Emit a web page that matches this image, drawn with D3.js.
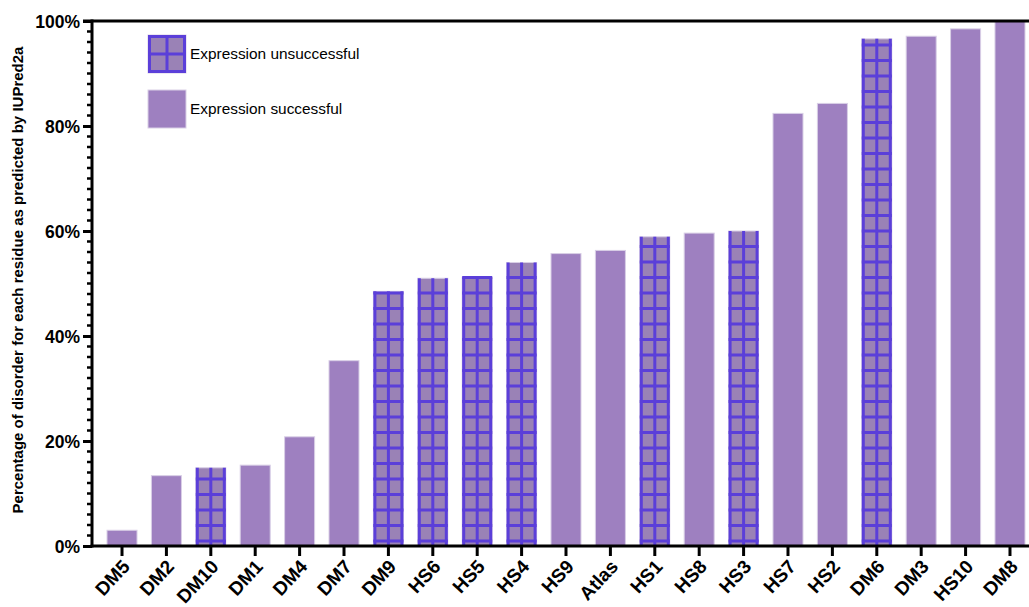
<!DOCTYPE html>
<html>
<head>
<meta charset="utf-8">
<script src="https://cdn.jsdelivr.net/npm/d3@7"></script>
<style>
  body { margin: 0; background: #fff; }
  svg { display: block; font-family: "Liberation Sans", Arial, sans-serif; }
</style>
</head>
<body>
<div id="chart"></div>
<script>
// constructs, sorted by disorder
const names = ["DM5", "DM2", "DM10", "DM1", "DM4", "DM7", "DM9", "HS6", "HS5", "HS4", "HS9",
    "Atlas", "HS1", "HS8", "HS3", "HS7", "HS2", "DM6", "DM3", "HS10", "DM8"];
const disorder = [3.0, 13.4, 14.9, 15.4, 20.8, 35.3, 48.5, 51.0, 51.2, 54.0, 55.7,
    56.3, 58.9, 59.6, 60.0, 82.4, 84.3, 96.6, 97.1, 98.5, 100];
// false = expression unsuccessful (hatched)
const expressed = [true, true, false, true, true, true, false, false, false, false, true,
    true, false, true, false, true, true, false, true, true, true];
const yTicks = [0, 20, 40, 60, 80, 100];
const legendLabels = ["Expression unsuccessful", "Expression successful"];

const W = 1029, H = 607;
const solid = "#9e80c0", hatchFill = "#9a82b6", hatchLine = "#5b3fd9";

const svg = d3.select("#chart").append("svg").attr("width", W).attr("height", H);

let x = d3.scaleBand()
    .domain(names)
    .range([92, 1040])
    .paddingInner(0.324)
    .paddingOuter(0.338);

let y = d3.scaleLinear().domain([0, 100]).range([546, 21]);

let data = names.map((n, i) => ({name: n, v: disorder[i], ok: expressed[i]}));

// bars
let bars = svg.append("g");
bars.selectAll("rect")
    .data(data)
    .enter()
    .append("rect")
    .attr("x", d => x(d.name))
    .attr("y", d => y(d.v))
    .attr("width", x.bandwidth())
    .attr("height", d => y(0) - y(d.v))
    .style("fill", d => d.ok ? solid : hatchFill)
    .style("stroke", "#d9cfe6")
    .style("stroke-width", 1);

// grid hatch on unsuccessful bars
let bw = x.bandwidth();
data.filter(d => !d.ok).forEach(d => {
    let g = bars.append("g");
    let x0 = x(d.name), top = y(d.v), bot = y(0);
    [x0 + 1.5, x0 + bw / 2, x0 + bw - 1.5].forEach(xx => {
        g.append("line").attr("x1", xx).attr("x2", xx).attr("y1", top).attr("y2", bot)
            .style("stroke", hatchLine).style("stroke-width", 3);
    });
    for (let yy = bot - 5; yy > top; yy -= 15.5) {
        g.append("line").attr("x1", x0).attr("x2", x0 + bw).attr("y1", yy).attr("y2", yy)
            .style("stroke", hatchLine).style("stroke-width", 3);
    }
});

// y axis with minor ticks every 2%
let minor = d3.range(0, 101, 2).filter(v => v % 20 != 0);
svg.append("g").selectAll("line")
    .data(minor)
    .enter()
    .append("line")
    .attr("x1", 87).attr("x2", 92)
    .attr("y1", d => y(d)).attr("y2", d => y(d))
    .style("stroke", "#000").style("stroke-width", 2.5);

let yAxis = svg.append("g")
    .attr("transform", "translate(92,0)")
    .call(d3.axisLeft(y).tickValues(yTicks).tickFormat(d => d + "%").tickSize(9).tickPadding(3));
yAxis.select(".domain").remove();
yAxis.selectAll(".tick line").style("stroke-width", 3);
yAxis.selectAll("text").style("font-size", "17.5px").style("font-weight", "bold")
    .style("fill", "#000").attr("dy", "0.36em");

svg.append("line").attr("x1", 92).attr("x2", 92).attr("y1", 19.5).attr("y2", 547.5)
    .style("stroke", "#000").style("stroke-width", 3);
// top frame line
svg.append("line").attr("x1", 83).attr("x2", W).attr("y1", y(100)).attr("y2", y(100))
    .style("stroke", "#000").style("stroke-width", 3);

// x axis
let xAxis = svg.append("g")
    .attr("transform", "translate(0,546)")
    .call(d3.axisBottom(x).tickSize(10));
xAxis.select(".domain").remove();
xAxis.selectAll(".tick line").style("stroke-width", 3);
xAxis.selectAll("text")
    .attr("x", 0).attr("y", 0).attr("dy", "0.35em")
    .style("font-size", "19px").style("font-weight", "bold").style("fill", "#000")
    .style("text-anchor", "end")
    .attr("transform", "translate(4,17) rotate(-47)");
svg.append("line").attr("x1", 90.5).attr("x2", W).attr("y1", 546).attr("y2", 546)
    .style("stroke", "#000").style("stroke-width", 3);

// y axis title
svg.append("text")
    .attr("transform", "translate(23,280) rotate(-90)")
    .attr("text-anchor", "middle")
    .style("font-size", "15px").style("font-weight", "bold")
    .text("Percentage of disorder for each residue as predicted by IUPred2a");

// legend
let leg = svg.append("g");
let lx = 148, ls = 38;
[35, 90].forEach((ly, i) => {
    leg.append("rect").attr("x", lx).attr("y", ly).attr("width", ls).attr("height", ls)
        .style("fill", i == 0 ? hatchFill : solid).style("stroke", "#d9cfe6");
    if (i == 0) {
        [1.5, ls / 2, ls - 1.5].forEach(o => {
            leg.append("line").attr("x1", lx + o).attr("x2", lx + o).attr("y1", ly).attr("y2", ly + ls)
                .style("stroke", hatchLine).style("stroke-width", 3);
            leg.append("line").attr("x1", lx).attr("x2", lx + ls).attr("y1", ly + o).attr("y2", ly + o)
                .style("stroke", hatchLine).style("stroke-width", 3);
        });
    }
    leg.append("text").attr("x", 190).attr("y", ly + ls / 2 + 5)
        .style("font-size", "15.4px").text(legendLabels[i]);
});
</script>
</body>
</html>
